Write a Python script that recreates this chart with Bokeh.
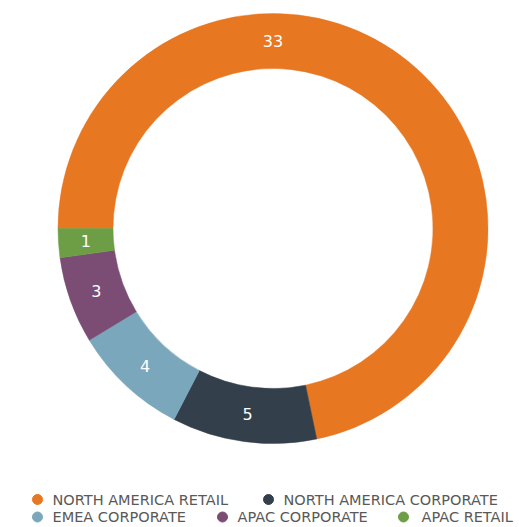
import math
from bokeh.plotting import figure
from bokeh.models import Range1d, ColumnDataSource
from bokeh.core.properties import value
from bokeh.embed import file_html
from bokeh.resources import INLINE

categories = ["NORTH AMERICA RETAIL", "NORTH AMERICA CORPORATE", "EMEA CORPORATE",
              "APAC CORPORATE", "APAC RETAIL"]
counts = [33, 5, 4, 3, 1]
colors = ["#E87722", "#333F4A", "#7BA7BC", "#7B4D74", "#6D9E45"]

W, H = 519, 527
p = figure(width=W, height=H, output_backend="svg", toolbar_location=None,
           x_range=Range1d(0, W), y_range=Range1d(0, H), min_border=0)
p.axis.visible = False
p.grid.visible = False
p.outline_line_color = None
p.background_fill_color = "white"

cx, cy = 272.5, 299
r_in, r_out = 160, 215
total = sum(counts)
starts, ends, lx, ly = [], [], [], []
acc = 0
for i, v in enumerate(counts):
    s = math.pi - 2 * math.pi * acc / total
    e = s - 2 * math.pi * v / total
    starts.append(s)
    ends.append(e)
    mid = (s + e) / 2 if i > 0 else math.pi / 2
    rl = (r_in + r_out) / 2
    lx.append(cx + rl * math.cos(mid))
    ly.append(cy + rl * math.sin(mid))
    acc += v

src = ColumnDataSource(dict(start=starts, end=ends, color=colors,
                            lx=lx, ly=ly, txt=[str(c) for c in counts]))
p.annular_wedge(x=cx, y=cy, inner_radius=r_in, outer_radius=r_out,
                start_angle="start", end_angle="end", direction="clock",
                fill_color="color", line_color="color", line_width=0.5, source=src)
p.text(x="lx", y="ly", text="txt", source=src, text_color="white",
       text_font=value("DejaVu Sans"), text_font_size="16px",
       text_align="center", text_baseline="middle")

# legend (two rows, flowing)
dot_x = [37, 268, 37, 222, 403]
txt_x = [52, 283, 52, 237, 421]
row_y = [28, 28, 10.5, 10.5, 10.5]
lsrc = ColumnDataSource(dict(dx=dot_x, tx=txt_x, y=row_y, color=colors, name=categories))
p.scatter(x="dx", y="y", source=lsrc, size=10, marker="circle",
          fill_color="color", line_color="color")
p.text(x="tx", y="y", text="name", source=lsrc, text_color="#595959",
       text_font=value("DejaVu Sans"), text_font_size="14.5px",
       text_align="left", text_baseline="middle")

open("out.html", "w").write(file_html(p, INLINE))
